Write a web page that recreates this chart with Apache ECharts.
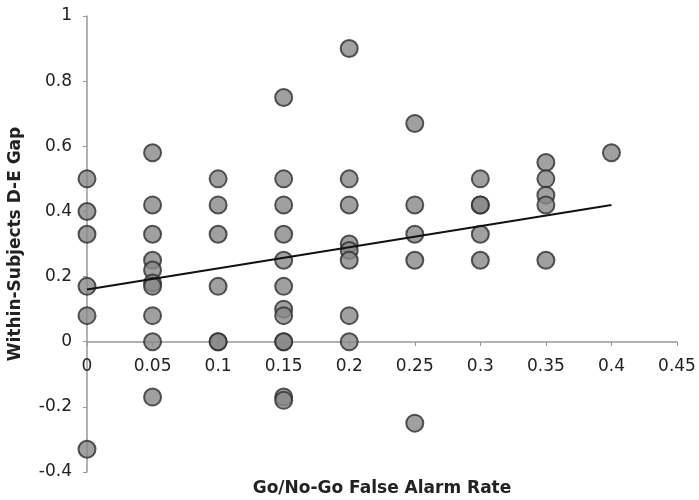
<!DOCTYPE html>
<html>
<head>
<meta charset="utf-8">
<script src="https://cdn.jsdelivr.net/npm/echarts@6/dist/echarts.min.js"></script>
<style>
  html, body { margin: 0; padding: 0; background: #fff; }
  #chartDom { width: 699px; height: 500px; }
</style>
</head>
<body>
<div id="chartDom"></div>
<script>
// false alarm rate (x) and within-subjects D-E gap (y), one entry per subject
const falseAlarm = [
  0, 0, 0, 0, 0, 0,
  0.05, 0.05, 0.05, 0.05, 0.05, 0.05, 0.05, 0.05, 0.05, 0.05,
  0.1, 0.1, 0.1, 0.1, 0.1, 0.1,
  0.15, 0.15, 0.15, 0.15, 0.15, 0.15, 0.15, 0.15, 0.15, 0.15, 0.15, 0.15,
  0.2, 0.2, 0.2, 0.2, 0.2, 0.2, 0.2, 0.2,
  0.25, 0.25, 0.25, 0.25, 0.25,
  0.3, 0.3, 0.3, 0.3, 0.3,
  0.35, 0.35, 0.35, 0.35, 0.35,
  0.4
]
const gap = [
  0.5, 0.4, 0.33, 0.17, 0.08, -0.33,
  0.58, 0.42, 0.33, 0.25, 0.22, 0.18, 0.17, 0.08, 0, -0.17,
  0.5, 0.42, 0.33, 0.17, 0, 0,
  0.75, 0.5, 0.42, 0.33, 0.25, 0.17, 0.1, 0.08, 0, 0, -0.17, -0.18,
  0.9, 0.5, 0.42, 0.3, 0.28, 0.25, 0.08, 0,
  0.67, 0.42, 0.33, 0.25, -0.25,
  0.5, 0.42, 0.42, 0.33, 0.25,
  0.55, 0.5, 0.45, 0.42, 0.25,
  0.58
]
// fitted trend line end points
const trendX = [0, 0.4]
const trendY = [0.16, 0.42]

const chart = echarts.init(document.getElementById('chartDom'))
const axisColor = '#999'
const textStyle = { color: '#222', fontFamily: 'DejaVu Sans, sans-serif', fontSize: 17 }
const titleStyle = Object.assign({}, textStyle, { fontWeight: 'bold', fontSize: 17 })

const points = falseAlarm.map((x, i) => [x, gap[i]])
const trend = trendX.map((x, i) => [x, trendY[i]])

const option = {
  backgroundColor: '#fff',
  animation: false,
  grid: { left: 87, right: 22, top: 16, bottom: 28, containLabel: false, outerBoundsMode: 'none' },
  xAxis: {
    type: 'value',
    min: 0,
    max: 0.45,
    interval: 0.05,
    // sits on y = 0, which is 130px above the bottom of the grid
    offset: -130,
    name: 'Go/No-Go False Alarm Rate',
    nameLocation: 'middle',
    nameGap: 138,
    nameTextStyle: titleStyle,
    axisLine: { onZero: false, lineStyle: { color: axisColor, width: 1.5 } },
    axisTick: { show: true, length: 4, lineStyle: { color: axisColor } },
    axisLabel: Object.assign({}, textStyle, { margin: 16 }),
    splitLine: { show: false }
  },
  yAxis: {
    type: 'value',
    min: -0.4,
    max: 1,
    interval: 0.2,
    name: 'Within-Subjects D-E Gap',
    nameLocation: 'middle',
    nameGap: 63,
    nameTextStyle: titleStyle,
    axisLine: { show: true, onZero: false, lineStyle: { color: axisColor, width: 1.5 } },
    axisTick: { show: true, length: 4, lineStyle: { color: axisColor } },
    axisLabel: Object.assign({}, textStyle, { margin: 15, padding: [6, 0, 0, 0] }),
    splitLine: { show: false }
  },
  series: [
    {
      type: 'scatter',
      data: points,
      symbolSize: 17,
      itemStyle: { color: '#888', borderColor: '#2e2e2e', borderWidth: 2 },
      z: 2
    },
    {
      type: 'line',
      data: trend,
      symbol: 'none',
      lineStyle: { color: '#111', width: 2 },
      z: 3
    }
  ]
}
chart.setOption(option)
</script>
</body>
</html>
